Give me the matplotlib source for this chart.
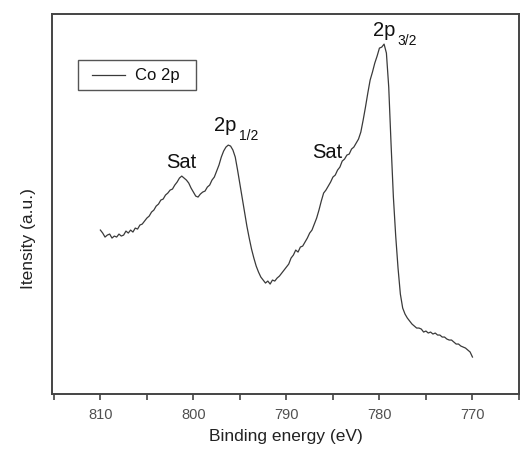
import numpy as np
import matplotlib
matplotlib.use("Agg")
import matplotlib.pyplot as plt
from matplotlib.ticker import MultipleLocator
from matplotlib.patches import Rectangle

plt.rcParams['font.family'] = ['Liberation Sans', 'DejaVu Sans']

# Co 2p spectrum, binding energy (eV) from 810 down to 770 in 0.25 eV steps
energy = np.arange(810.0, 769.99, -0.25)
intensity = [
    164, 161, 157, 159, 160, 156, 158, 157, 160, 158, 159, 163, 161, 164, 162, 166,
    165, 169, 170, 173, 176, 178, 182, 184, 188, 190, 194, 195, 199, 201, 204, 205,
    209, 212, 216, 218, 216, 214, 211, 206, 202, 198, 197, 200, 202, 203, 207, 209,
    214, 217, 223, 229, 237, 243, 247, 249, 248, 244, 237, 224, 210, 196, 182, 168,
    156, 145, 136, 128, 122, 117, 114, 111, 113, 110, 114, 113, 116, 118, 121, 124,
    127, 130, 136, 139, 144, 142, 147, 148, 152, 156, 161, 164, 170, 176, 184, 193,
    201, 204, 208, 212, 217, 219, 224, 227, 233, 235, 239, 240, 245, 247, 251, 255,
    262, 274, 287, 301, 314, 322, 331, 338, 346, 347, 350, 341, 307, 250, 197, 158,
    126, 100, 86, 80, 76, 73, 70, 68, 66, 66, 65, 62, 63, 61, 62, 60,
    61, 59, 59, 57, 57, 55, 54, 54, 52, 50, 50, 48, 47, 46, 44, 42,
    37,
]

# satellite labels (centre, baseline)
sat_e = [801.3, 785.65]
sat_i = [226, 236]
# spin-orbit peak labels: main text, subscript, anchors (left, baseline)
peak_main = ["2p", "2p"]
peak_sub = ["1/2", "3/2"]
peak_e = [797.74, 780.65]
peak_i = [263, 358]
sub_e = [795.05, 778.05]
sub_i = [254, 349]

fig = plt.figure(figsize=(5.2, 4.55), dpi=100)
ax = fig.add_axes([0.1, 0.134, 0.898, 0.835])

ax.plot(energy, intensity, color='#3a3a3a', lw=0.9)

for e, i in zip(sat_e, sat_i):
    ax.text(e, i, "Sat", fontsize=14.5, ha='center', va='baseline', color='#111111')
for m, s, e, i, se, si in zip(peak_main, peak_sub, peak_e, peak_i, sub_e, sub_i):
    ax.text(e, i, m, fontsize=14.5, ha='left', va='baseline', color='#111111')
    ax.text(se, si, s, fontsize=10, ha='left', va='baseline', color='#111111')

ax.set_xlim(815.2, 765.0)
ax.set_ylim(0, 380)
ax.xaxis.set_major_locator(MultipleLocator(10))
ax.xaxis.set_minor_locator(MultipleLocator(5))
ax.tick_params(axis='x', which='both', direction='out', length=4, width=1.2,
               color='#444444', labelsize=10.5, labelcolor='#505050', pad=6)
ax.tick_params(axis='y', left=False, labelleft=False)
for sp in ax.spines.values():
    sp.set_color('#444444')
    sp.set_linewidth(1.4)

ax.set_xlabel('Binding energy (eV)', fontsize=12.5, color='#222222', labelpad=5)
ax.set_ylabel('Itensity (a.u.)', fontsize=12.5, color='#222222')
ax.yaxis.set_label_coords(-0.034, 0.41)

# legend box drawn in axes fraction
ax.add_patch(Rectangle((0.056, 0.80), 0.253, 0.079, transform=ax.transAxes,
                       fill=False, edgecolor='#555555', lw=1.0))
ax.plot([0.086, 0.156], [0.8395, 0.8395], transform=ax.transAxes,
        color='#3a3a3a', lw=0.9)
ax.text(0.178, 0.8395, 'Co 2p', transform=ax.transAxes, fontsize=12,
        ha='left', va='center', color='#111111')

fig.savefig('out.png', dpi=100)
